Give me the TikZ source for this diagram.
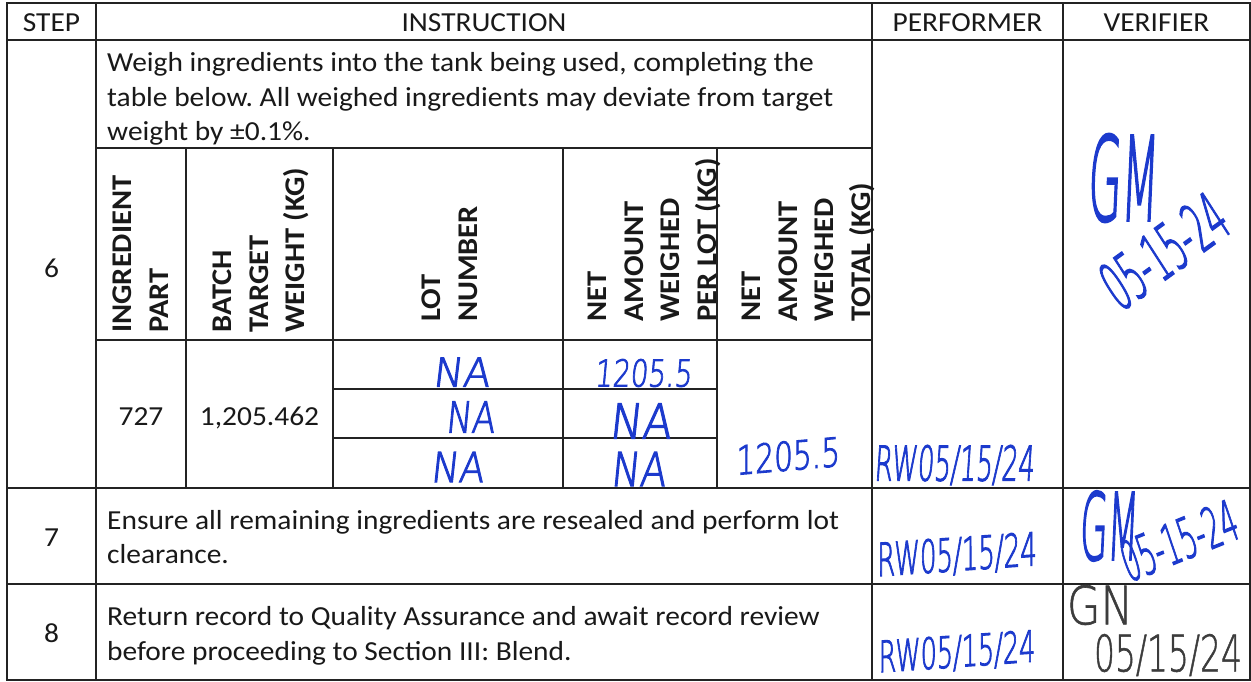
\documentclass[tikz,border=0pt]{standalone}
\usepackage{fontspec}
\setmainfont{Carlito}[FakeStretch=1.07]
\newfontfamily\handfont{DejaVu Sans ExtraLight}[FakeSlant=0.12,FakeBold=2.5]
\newfontfamily\grayfont{DejaVu Sans ExtraLight}[FakeBold=1.2]
\definecolor{penblue}{RGB}{28,58,205}
\definecolor{pengray}{RGB}{60,60,60}
\definecolor{rulecol}{RGB}{35,35,35}
\begin{document}
\frenchspacing
\begin{tikzpicture}[x=1pt,y=-1pt,
  grid/.style={draw=rulecol, line width=1.8pt},
  txt/.style={inner sep=0pt, font=\fontsize{27.5}{34}\selectfont, text=black!90},
  hd/.style={inner sep=0pt, font=\bfseries\fontsize{28.5}{36.5}\selectfont, text=black!90, rotate=90, anchor=north west, align=left},
  hw/.style={inner sep=0pt, text=penblue, font=\handfont\fontsize{30}{30}\selectfont},
  hg/.style={inner sep=0pt, text=pengray, font=\grayfont\fontsize{30}{30}\selectfont},
]
\useasboundingbox (0,0) rectangle (1251,681);
\fill[white] (0,0) rectangle (1251,681);
% table rules
\draw[grid] (7,3) rectangle (1250,680);
\draw[grid] (7,40) -- (1250,40);
\draw[grid] (7,488) -- (1250,488);
\draw[grid] (7,584) -- (1250,584);
\draw[grid] (96,3) -- (96,680);
\draw[grid] (872,3) -- (872,680);
\draw[grid] (1063,3) -- (1063,680);
\draw[grid] (96,148) -- (872,148);
\draw[grid] (96,340) -- (872,340);
\draw[grid] (186,148) -- (186,488);
\draw[grid] (333,148) -- (333,488);
\draw[grid] (563,148) -- (563,488);
\draw[grid] (717,148) -- (717,488);
\draw[grid] (333,389) -- (717,389);
\draw[grid] (333,438) -- (717,438);
% header
\node[txt, anchor=base] (hstep) at (51.5,31) {STEP};
\node[txt, anchor=base] (hinst) at (484,31) {INSTRUCTION};
\node[txt, anchor=base] (hperf) at (967.5,31) {PERFORMER};
\node[txt, anchor=base] (hver) at (1156.5,31) {VERIFIER};
% step numbers
\node[txt, anchor=base] (s6) at (51.5,277) {6};
\node[txt, anchor=base] (s7) at (51.5,546) {7};
\node[txt, anchor=base] (s8) at (51.5,642) {8};
% instructions
\node[txt, anchor=base west] (i6a) at (107,71) {Weigh ingredients into the tank being used, completing the};
\node[txt, anchor=base west] (i6b) at (107,106) {table below. All weighed ingredients may deviate from target};
\node[txt, anchor=base west] (i6c) at (107,140) {weight by ±0.1\%.};
\node[txt, anchor=base west] (i7a) at (107,529) {Ensure all remaining ingredients are resealed and perform lot};
\node[txt, anchor=base west] (i7b) at (107,563) {clearance.};
\node[txt, anchor=base west] (i8a) at (107,625) {Return record to Quality Assurance and await record review};
\node[txt, anchor=base west] (i8b) at (107,660) {before proceeding to Section III: Blend.};
% sub-table headers
\node[hd] (c1) at (113,333) {INGREDIENT\\PART};
\node[hd] (c2) at (213,333) {BATCH\\TARGET\\WEIGHT (KG)};
\node[hd] (c3) at (422,322) {LOT\\NUMBER};
\node[hd] (c4) at (588,322) {NET\\AMOUNT\\WEIGHED\\PER LOT (KG)};
\node[hd] (c5) at (742,322) {NET\\AMOUNT\\WEIGHED\\TOTAL (KG)};
% data
\node[txt, anchor=base] (d1) at (141,425) {727};
\node[txt, anchor=base] (d2) at (259.5,425) {1,205.462};
% handwriting
\node[hw] (na1) at (461,372) {\resizebox*{57pt}{29pt}{NA}};
\node[hw] (na2) at (470,417) {\resizebox*{49pt}{31pt}{NA}};
\node[hw] (na3) at (457,467) {\resizebox*{53pt}{30pt}{NA}};
\node[hw] (pl1) at (643,373) {\resizebox*{97pt}{28pt}{1205.5}};
\node[hw] (pl2) at (640,421) {\resizebox*{62pt}{35pt}{NA}};
\node[hw] (pl3) at (638,469) {\resizebox*{55pt}{34pt}{NA}};
\node[hw, rotate=5] (tot) at (787,456) {\resizebox*{104pt}{30pt}{1205.5}};
\node[hw] (p6) at (954,465) {\resizebox*{160pt}{40pt}{RW05/15/24}};
\node[hw, rotate=4] (p7) at (956,556) {\resizebox*{160pt}{38pt}{RW05/15/24}};
\node[hw, rotate=4] (p8) at (956,653) {\resizebox*{157pt}{36pt}{RW05/15/24}};
\node[hw] (v6a) at (1122,178) {\resizebox*{70pt}{88pt}{GM}};
\node[hw, rotate=36] (v6b) at (1163,252) {\resizebox*{140pt}{50pt}{05-15-24}};
\node[hw] (v7a) at (1108,526) {\resizebox*{58pt}{70pt}{GM}};
\node[hw, rotate=22] (v7b) at (1178,541) {\resizebox*{122pt}{42pt}{05-15-24}};
\node[hg] (v8a) at (1100,605) {\resizebox*{66pt}{40pt}{GN}};
\node[hg] (v8b) at (1168,655) {\resizebox*{148pt}{42pt}{05/15/24}};
\end{tikzpicture}
\end{document}
